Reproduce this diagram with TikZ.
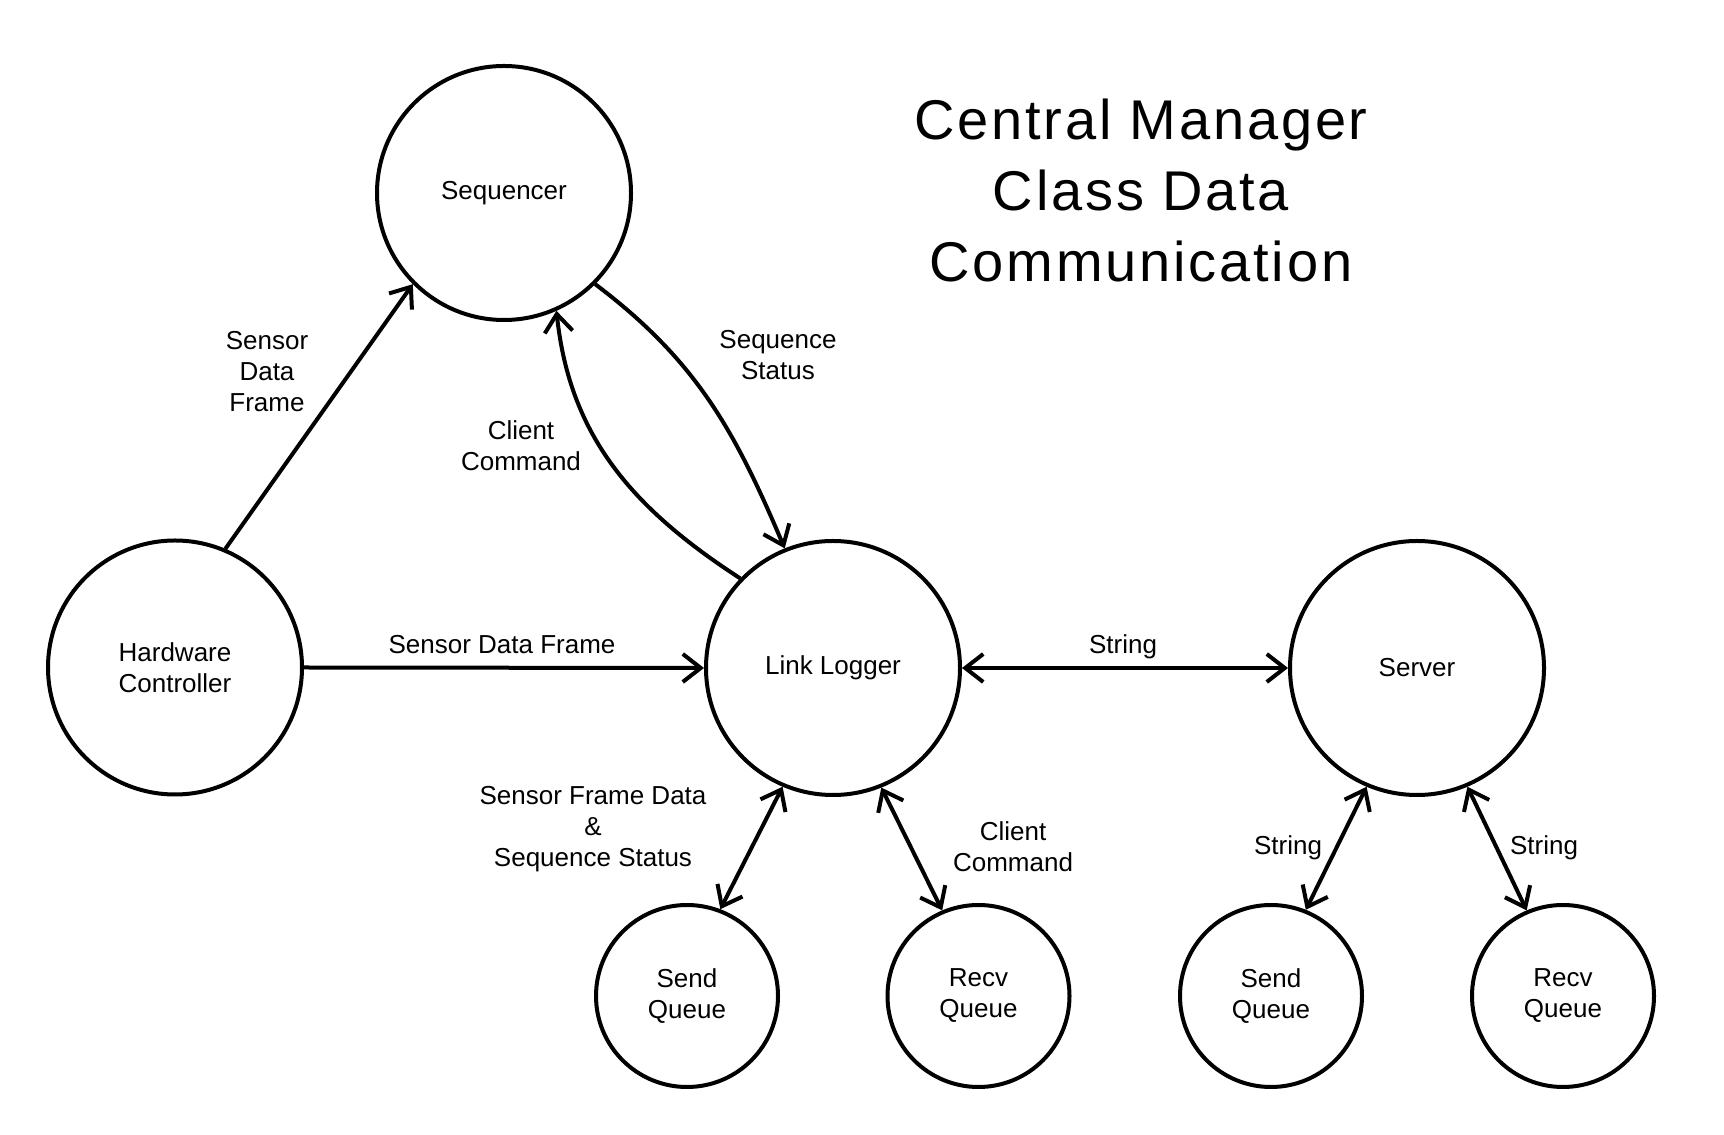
\documentclass[tikz,border=0pt]{standalone}
\usepackage{fontspec}
\setmainfont{Liberation Sans}
\newfontfamily\titlefont[LetterSpace=5]{Liberation Sans}
\usetikzlibrary{arrows.meta}
\begin{document}
\begin{tikzpicture}[x=1pt,y=1pt,line width=4pt,
  txt/.style={font=\fontsize{26}{31}\selectfont,align=center},
  big/.style={circle,draw,minimum size=254pt,inner sep=0pt,txt},
  small/.style={circle,draw,minimum size=182pt,inner sep=0pt,txt},
  lbl/.style={txt,inner sep=0pt},
  tip/.tip={Straight Barb[length=18pt,width=28pt]},
  arr/.style={-tip},
  darr/.style={tip-tip}]
\useasboundingbox (0,0) rectangle (1724,1135);
\node[big] (seq) at (504,942) {Sequencer};
\node[big] (hc) at (175,467.5) {Hardware\\Controller};
\node[big] (ll) at (833,467) {Link Logger};
\node[big] (srv) at (1417,467) {Server};
\node[small] (sq1) at (687,139) {Send\\Queue};
\node[small] (rq1) at (978.5,139) {Recv\\Queue};
\node[small] (sq2) at (1271,139) {Send\\Queue};
\node[small] (rq2) at (1563,139) {Recv\\Queue};
\node[font=\titlefont\fontsize{56}{71}\selectfont,align=center] (title) at (1141,945) {Central Manager\\Class Data\\Communication};
\draw[arr] (hc.67) -- (seq.-135);
\draw[arr] (seq.-45) to[out=-37,in=113] (ll.112);
\draw[arr] (ll.136) to[out=147,in=-84] (seq.-66);
\draw[arr] (hc.east) -- (ll.west);
\draw[darr] (ll.east) -- (srv.west);
\draw[darr] (ll.-113) -- (sq1.69);
\draw[darr] (ll.-68) -- (rq1.113);
\draw[darr] (srv.-113) -- (sq2.68);
\draw[darr] (srv.-67) -- (rq2.113);
\node[lbl] (la) at (267,763) {Sensor\\Data\\Frame};
\node[lbl] (lb) at (778,780) {Sequence\\Status};
\node[lbl] (lc) at (521,689) {Client\\Command};
\node[lbl,anchor=base] (ld) at (502,481) {Sensor Data Frame};
\node[lbl,anchor=base] (le) at (1123,481) {String};
\node[lbl] (lf) at (593,306) {Sensor Frame Data\\\&\\Sequence Status};
\node[lbl] (lg) at (1013,288.5) {Client\\Command};
\node[lbl,anchor=base] (lh) at (1288,280) {String};
\node[lbl,anchor=base] (li) at (1544,280) {String};
\end{tikzpicture}
\end{document}
